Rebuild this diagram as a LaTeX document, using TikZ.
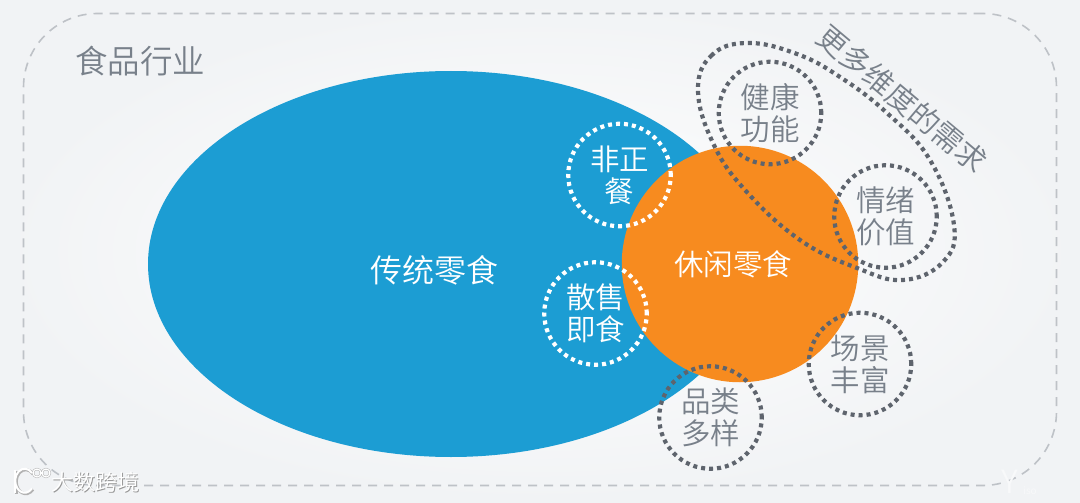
\documentclass[tikz,border=0pt]{standalone}
\usepackage{fontspec}
\setmainfont{Noto Sans CJK SC DemiLight}
\usetikzlibrary{calc,shapes.geometric}
\definecolor{blueE}{HTML}{1C9DD3}
\definecolor{orangeC}{HTML}{F78B1F}
\definecolor{txtG}{HTML}{78808A}
\definecolor{dotG}{HTML}{5E646D}
\definecolor{dashG}{HTML}{BEC2C7}
\definecolor{bgO}{HTML}{F1F3F5}
\tikzset{
 ringbase/.style={circle,minimum size=102.5pt,inner sep=0pt,line width=4.2pt,dash pattern=on 4pt off 4pt,align=center,font=\fontsize{29.5}{32}\selectfont},
 ringW/.style={ringbase,draw=white,text=white},
 ringG/.style={ringbase,draw=dotG,text=txtG},
 lab/.style={inner sep=0pt,font=\fontsize{#1}{#1}\selectfont},
}
\begin{document}
\begin{tikzpicture}[x=1pt,y=-1pt]
\useasboundingbox (0,0) rectangle (1080,503);
\fill[bgO] (0,0) rectangle (1080,503);
\shade[shading=radial,inner color=white,outer color=bgO] (0,0) rectangle (1080,503);
\node[draw=dashG,line width=1.6pt,dash pattern=on 9pt off 7pt,rounded corners=74pt,minimum width=1033pt,minimum height=472pt,inner sep=0pt] (frame) at (540,249.5) {};
\node[ellipse,fill=blueE,minimum width=606pt,minimum height=386pt,inner sep=0pt] (trad) at (451,264) {};
\node[circle,fill=orangeC,minimum size=236.5pt,inner sep=0pt] (snack) at (740,264) {};
\draw[dotG,line width=4.2pt,dash pattern=on 4pt off 4pt] plot[smooth cycle,tension=0.7] coordinates {(748,43) (712,55) (698,90) (713,143) (745,190) (800,240) (857,268) (903,280) (943,262) (954,225) (930,160) (887,113) (840,77) (797,54)};
\node[lab=32.5,text=txtG] (food) at (140,61) {食品行业};
\node[lab=32,text=white] (tradT) at (434,270) {传统零食};
\node[lab=29.5,text=white] (snackT) at (733,264) {休闲零食};
\node[ringW] (a) at (619.5,175) {非正\\餐};
\node[ringW] (b) at (595.5,313.5) {散售\\即食};
\node[ringG] (c) at (710.5,417.5) {品类\\多样};
\node[ringG] (d) at (770,113) {健康\\功能};
\node[ringG] (e) at (885.5,216.5) {情绪\\价值};
\node[ringG] (f) at (860,364) {场景\\丰富};
\node[lab=30,text=txtG,rotate=-40] (more) at (902,99) {更多维度的需求};
% watermarks
\node[lab=22,text=black!40] (wmS) at (96.5,483.5) {大数跨境};
\node[lab=22,text=white] (wm) at (95.5,482.5) {大数跨境};
\draw[black!30,line width=3pt] (16,471) -- (16,494);
\draw[black!30,line width=3pt] (33,474) arc (40:320:9.5pt and 12pt);
\draw[black!30,line width=2.2pt] (37,473) circle (4pt) (46,473) circle (4pt);
\draw[white,line width=2pt] (15,470) -- (15,493);
\draw[white,line width=2pt] (32,473) arc (40:320:9.5pt and 12pt);
\draw[white,line width=1.2pt] (37,473) circle (4pt) (46,473) circle (4pt);
\node[lab=32,text=white!50!bgO] (wy) at (1010,482) {Y};
\node[lab=10,text=white!50!bgO] (wy2) at (1030,491) {iso};
\end{tikzpicture}
\end{document}
